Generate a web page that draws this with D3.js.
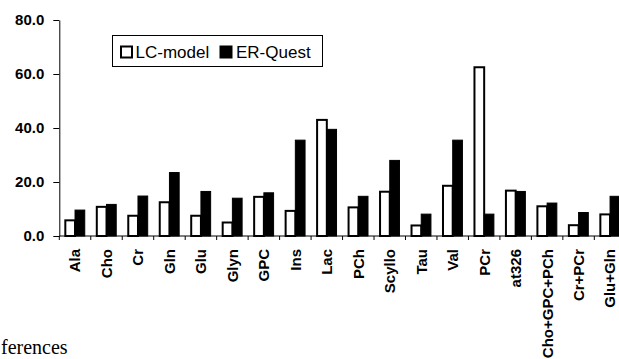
<!DOCTYPE html>
<html>
<head>
  <meta charset="utf-8">
  <title>LC-model vs ER-Quest</title>
  <script src="https://d3js.org/d3.v7.min.js"></script>
  <style>
    body { margin: 0; background: #fff; }
    svg { display: block; }
    text { font-family: Arial, "Liberation Sans", Helvetica, sans-serif; }
  </style>
</head>
<body>
<div id="chart"></div>
<script>
  // Metabolites on the x axis.
  const categories = ["Ala", "Cho", "Cr", "Gln", "Glu", "Glyn", "GPC", "Ins", "Lac", "PCh",
    "Scyllo", "Tau", "Val", "PCr", "at326", "Cho+GPC+PCh", "Cr+PCr", "Glu+Gln"];

  // Series names (legend order).
  const seriesNames = ["LC-model", "ER-Quest"];

  // Values.
  const lcModel = [5.8, 10.8, 7.5, 12.5, 7.5, 5.0, 14.5, 9.3, 43.0, 10.6,
    16.4, 3.9, 18.6, 62.5, 16.8, 11.0, 4.0, 8.0];
  const erQuest = [9.6, 11.7, 14.8, 23.5, 16.5, 14.0, 16.0, 35.5, 39.5, 14.7,
    28.0, 8.1, 35.5, 8.1, 16.5, 12.2, 8.7, 14.7];

  // Y axis tick values.
  const yTicks = [0, 20, 40, 60, 80];

  const width = 619, height = 359;
  const x0Left = 59.3, x0Right = 625.8; // plot area runs past the right edge (cropped)
  const yBottom = 236, yTop = 20;

  const svg = d3.select("#chart").append("svg")
    .attr("width", width)
    .attr("height", height);

  const x0 = d3.scaleBand()
    .domain(categories)
    .range([x0Left, x0Right])
    .padding(0);

  const x1 = d3.scaleBand()
    .domain(seriesNames)
    .range([0, x0.bandwidth()])
    .paddingInner(0)
    .paddingOuter(0.62);

  const y = d3.scaleLinear()
    .domain([0, 80])
    .range([yBottom, yTop]);

  const rows = categories.map((c, i) => ({
    cat: c,
    vals: [{ key: "LC-model", v: lcModel[i] }, { key: "ER-Quest", v: erQuest[i] }]
  }));

  // Bars
  const groups = svg.selectAll(".grp")
    .data(rows)
    .enter().append("g")
    .attr("transform", d => "translate(" + x0(d.cat) + ",0)");

  groups.selectAll("rect")
    .data(d => d.vals)
    .enter().append("rect")
    .attr("x", d => x1(d.key))
    .attr("y", d => y(d.v))
    .attr("width", x1.bandwidth())
    .attr("height", d => y(0) - y(d.v))
    .attr("fill", d => d.key === "LC-model" ? "#fff" : "#000")
    .attr("stroke", "#000")
    .attr("stroke-width", d => d.key === "LC-model" ? 2 : 1);

  // Y axis
  const yAxis = d3.axisLeft(y)
    .tickValues(yTicks)
    .tickFormat(d3.format(".1f"))
    .tickSizeInner(6)
    .tickSizeOuter(0)
    .tickPadding(9);

  const gy = svg.append("g")
    .attr("transform", "translate(" + x0Left + ",0)")
    .call(yAxis);
  gy.attr("font-family", null);
  gy.selectAll("text")
    .style("font-size", "15px")
    .style("font-weight", "bold")
    .attr("fill", "#000");
  gy.selectAll("line, path").attr("stroke", "#000");

  // X axis line with ticks between categories
  const gx = svg.append("g");
  gx.append("line")
    .attr("x1", x0Left).attr("x2", x0Right)
    .attr("y1", y(0)).attr("y2", y(0))
    .attr("stroke", "#000");
  const boundaries = categories.map(c => x0(c)).concat([x0Right]);
  gx.selectAll(".xtick")
    .data(boundaries)
    .enter().append("line")
    .attr("x1", d => d).attr("x2", d => d)
    .attr("y1", y(0)).attr("y2", y(0) + 4)
    .attr("stroke", "#000");

  // Category labels (rotated)
  gx.selectAll(".xLabel")
    .data(categories)
    .enter().append("text")
    .attr("transform", d => "translate(" + (x0(d) + x0.bandwidth() / 2) + "," + 249 + ") rotate(-90)")
    .attr("text-anchor", "end")
    .attr("dy", "0.36em")
    .style("font-size", "15px")
    .style("font-weight", "bold")
    .text(d => d);

  // Legend
  const legend = svg.append("g");
  legend.append("rect")
    .attr("x", 112.5).attr("y", 35.5)
    .attr("width", 210).attr("height", 31)
    .attr("fill", "#fff")
    .attr("stroke", "#000");

  const legendItems = [
    { name: seriesNames[0], sx: 120, tx: 135.5, fill: "#fff" },
    { name: seriesNames[1], sx: 219.5, tx: 236, fill: "#000" }
  ];
  legend.selectAll(".sym")
    .data(legendItems)
    .enter().append("rect")
    .attr("x", d => d.sx + 1).attr("y", 46.5)
    .attr("width", 11).attr("height", 11)
    .attr("fill", d => d.fill)
    .attr("stroke", "#000")
    .attr("stroke-width", 2);
  legend.selectAll(".ltxt")
    .data(legendItems)
    .enter().append("text")
    .attr("x", d => d.tx).attr("y", 57.5)
    .style("font-size", "17px")
    .text(d => d.name);

  // Cropped caption from the page below
  svg.append("text")
    .attr("x", 1).attr("y", 354)
    .style("font-family", "'Liberation Serif', 'Times New Roman', serif")
    .style("font-size", "20px")
    .text("ferences");
</script>
</body>
</html>
